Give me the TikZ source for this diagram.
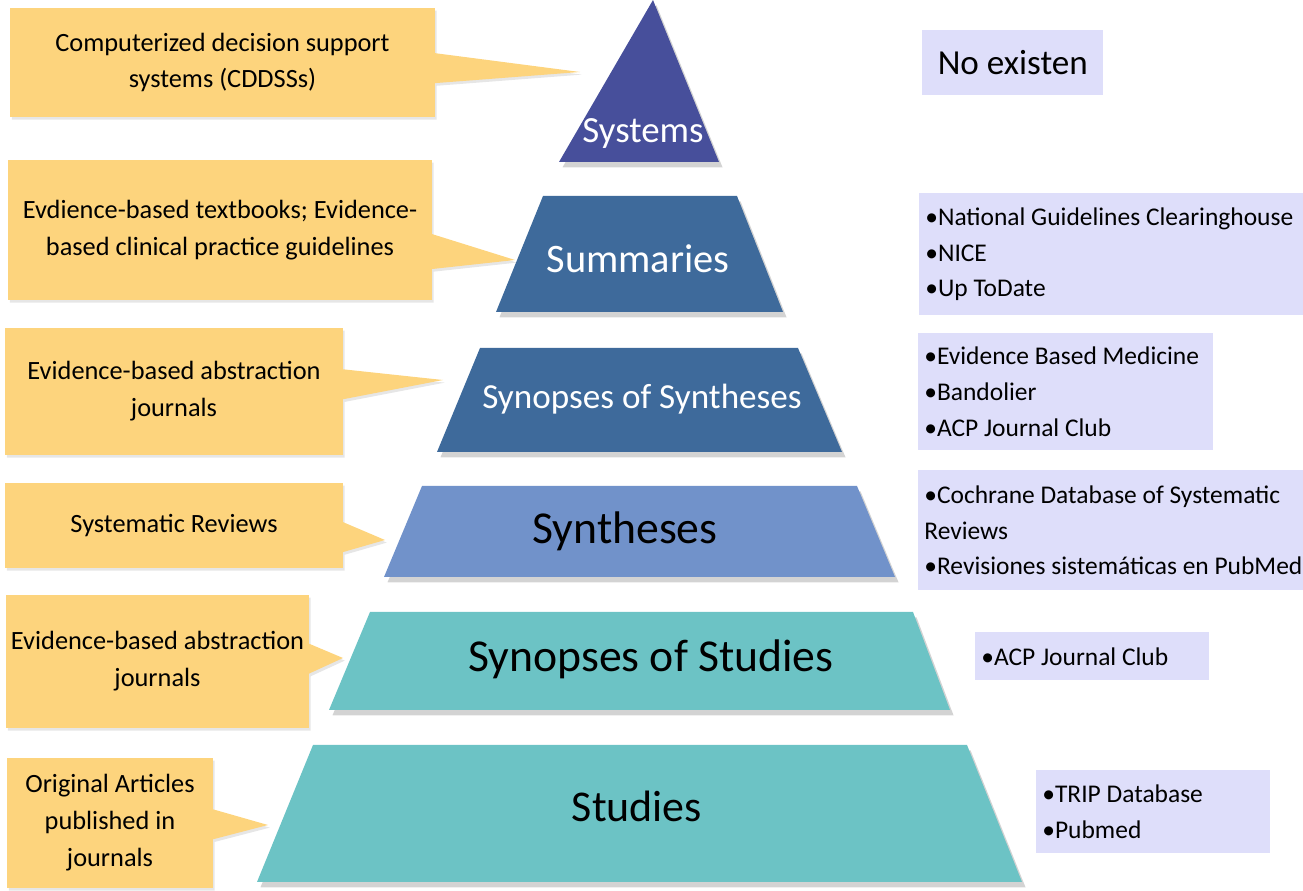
\documentclass[tikz,border=0pt]{standalone}
\usepackage{fontspec}
\setmainfont{Carlito}
\usetikzlibrary{shapes.callouts,shadows}

\definecolor{sysblue}{RGB}{71,79,155}
\definecolor{sumblue}{RGB}{62,106,155}
\definecolor{synblue}{RGB}{113,146,202}
\definecolor{stuteal}{RGB}{108,195,197}
\definecolor{noteyel}{RGB}{253,212,125}
\definecolor{srclav}{RGB}{222,222,250}

\begin{document}
\begin{tikzpicture}[x=0.02cm,y=-0.02cm,
  tier/.style={drop shadow={shadow xshift=2pt,shadow yshift=-3pt,opacity=.35}},
  tierlabel/.style={font=\fontsize{#1}{#1}\selectfont},
  note/.style={rectangle callout,fill=noteyel,align=center,inner sep=0pt,
    callout pointer width=0.6cm,font=\fontsize{15}{21}\selectfont,
    drop shadow={shadow xshift=1pt,shadow yshift=-1.5pt,opacity=.2}},
  src/.style={fill=srclav,anchor=north west,align=flush left,inner xsep=0.12cm,
    font=\fontsize{14.5}{20.4}\selectfont}]

\useasboundingbox (0,0) rectangle (1303,891);

% pyramid
\fill[sysblue,tier] (653,0) -- (719,162) -- (559,162) -- cycle;
\fill[sumblue,tier] (543,196) -- (737,196) -- (783,312) -- (496,312) -- cycle;
\fill[sumblue,tier] (480,348) -- (798,348) -- (842,452) -- (437,452) -- cycle;
\fill[synblue,tier] (422,486) -- (857,486) -- (895,577) -- (384,577) -- cycle;
\fill[stuteal,tier] (370,612) -- (913,612) -- (950,710) -- (329,710) -- cycle;
\fill[stuteal,tier] (313,745) -- (967,745) -- (1022,882) -- (257,882) -- cycle;

\node[tierlabel=21,white] (systems) at (643,134) {Systems};
\node[tierlabel=23,white] (summaries) at (638,259) {Summaries};
\node[tierlabel=20,white] (synsyn) at (642,399) {Synopses of Syntheses};
\node[tierlabel=26] (syntheses) at (625,531) {Syntheses};
\node[tierlabel=26] (synstud) at (651,659) {Synopses of Studies};
\node[tierlabel=25] (studies) at (637,806) {Studies};

% callouts
\node[note,minimum width=8.5cm,minimum height=2.18cm,callout absolute pointer={(580,72)}]
  (n1) at (222.5,62.5) {Computerized decision support\\systems (CDDSSs)};
\node[note,minimum width=8.48cm,minimum height=2.8cm,callout pointer width=0.7cm,
  callout absolute pointer={(515,260)}]
  (n2) at (220,230) {Evdience-based textbooks; Evidence-\\based clinical practice guidelines};
\node[note,minimum width=6.76cm,minimum height=2.54cm,callout absolute pointer={(443,380)}]
  (n3) at (174,391.5) {Evidence-based abstraction\\journals};
\node[note,minimum width=6.76cm,minimum height=1.7cm,callout absolute pointer={(385,540)}]
  (n4) at (174,525.5) {Systematic Reviews};
\node[note,minimum width=6.06cm,minimum height=2.66cm,callout absolute pointer={(343,658)}]
  (n5) at (157.5,661.5) {Evidence-based abstraction\\journals};
\node[note,minimum width=4.12cm,minimum height=2.6cm,callout absolute pointer={(268,825)}]
  (n6) at (110,823) {Original Articles\\published in\\journals};

% sources
\node[src,align=center,minimum width=3.62cm,minimum height=1.3cm,font=\fontsize{20}{24}\selectfont]
  (s1) at (922,30) {No existen};
\node[src,text width=7.44cm,minimum height=2.44cm] (s2) at (919,193)
  {•National Guidelines Clearinghouse\\•NICE\\•Up ToDate};
\node[src,text width=5.66cm,minimum height=2.34cm] (s3) at (918,333)
  {•Evidence Based Medicine\\•Bandolier\\•ACP Journal Club};
\node[src,text width=7.8cm,minimum height=2.4cm] (s4) at (918,470)
  {•Cochrane Database of Systematic\\Reviews\\•Revisiones sistemáticas en PubMed};
\node[src,text width=4.44cm,minimum height=0.96cm] (s5) at (975,632)
  {•ACP Journal Club};
\node[src,text width=4.44cm,minimum height=1.66cm] (s6) at (1036,770)
  {•TRIP Database\\•Pubmed};

\end{tikzpicture}
\end{document}
